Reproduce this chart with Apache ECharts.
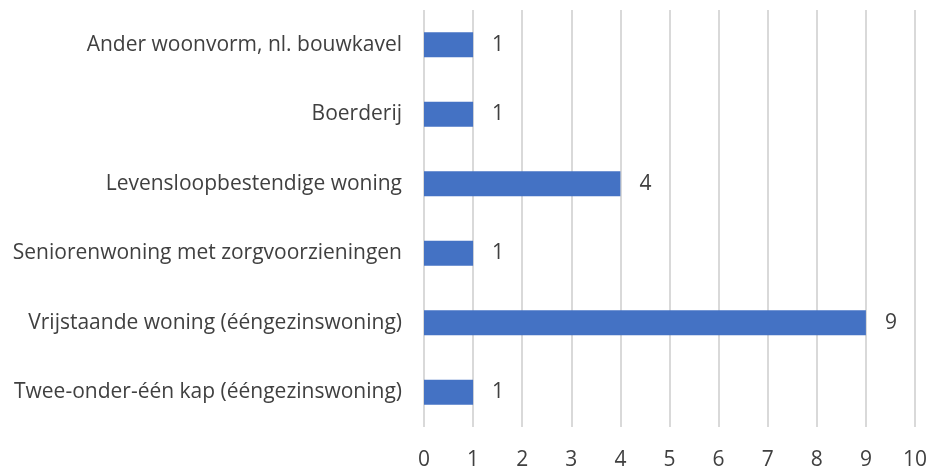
<!DOCTYPE html>
<html>
<head>
<meta charset="utf-8">
<script src="https://cdn.jsdelivr.net/npm/echarts@6/dist/echarts.min.js"></script>
<style>
  html, body { margin: 0; padding: 0; background: #fff; }
  #chart { width: 931px; height: 471px; }
</style>
</head>
<body>
<div id="chart"></div>
<script>
// bottom to top, as the category axis draws them
const categories = [
  'Twee-onder-één kap (ééngezinswoning)',
  'Vrijstaande woning (ééngezinswoning)',
  'Seniorenwoning met zorgvoorzieningen',
  'Levensloopbestendige woning',
  'Boerderij',
  'Ander woonvorm, nl. bouwkavel'
];
const counts = [1, 9, 1, 4, 1, 1];
const tickValues = [0, 1, 2, 3, 4, 5, 6, 7, 8, 9, 10];

const textColor = '#404040';
const font = 'Open Sans';

const chart = echarts.init(document.getElementById('chart'));
chart.setOption({
  animation: false,
  grid: { left: 424, right: 16, top: 10, bottom: 44 },
  xAxis: {
    type: 'value',
    min: tickValues[0],
    max: tickValues[tickValues.length - 1],
    interval: 1,
    axisLine: { show: false },
    axisTick: { show: false },
    axisLabel: { color: textColor, fontSize: 21, fontFamily: font, margin: 23 },
    splitLine: { show: true, lineStyle: { color: '#d9d9d9', width: 2 } }
  },
  yAxis: {
    type: 'category',
    data: categories,
    axisLine: { show: false },
    axisTick: { show: false },
    axisLabel: { color: textColor, fontSize: 21, fontFamily: font, margin: 22 }
  },
  series: [{
    type: 'bar',
    data: counts,
    barWidth: 25,
    itemStyle: { color: '#4472c4' },
    label: {
      show: true,
      position: 'right',
      distance: 19,
      color: textColor,
      fontSize: 21,
      fontFamily: font
    }
  }]
});
</script>
</body>
</html>
